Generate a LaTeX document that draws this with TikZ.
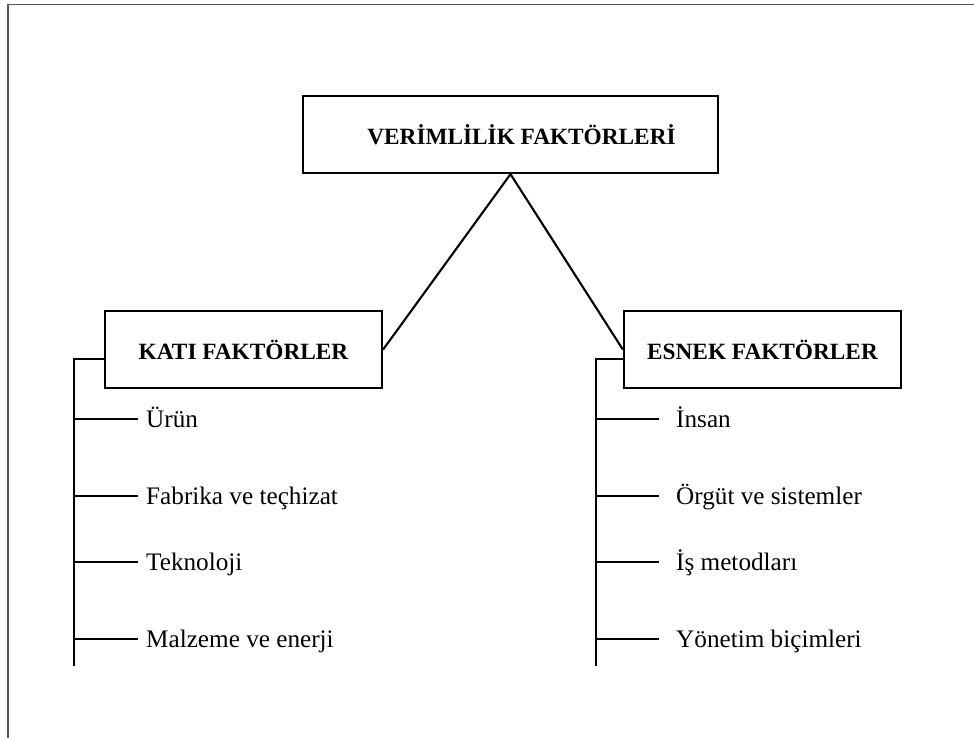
\documentclass[tikz,border=0pt]{standalone}
\usepackage{fontspec}
\setmainfont{Liberation Serif}

\tikzset{
  kutu/.style={draw, line width=2.3pt, minimum width=277pt, minimum height=77pt,
    inner sep=0pt, font=\bfseries\fontsize{23.3}{23.3}\selectfont},
  madde/.style={anchor=west, inner ysep=0pt, text height=18pt, text depth=2pt,
    font=\fontsize{25.2}{25.2}\selectfont},
  cizgi/.style={line width=2.1pt},
}

\begin{document}
\begin{tikzpicture}[x=1pt,y=-1pt]
\useasboundingbox (0,0) rectangle (974,738);
\draw[line width=1.6pt, black!65] (8,738) -- (8,4.5) -- (974,4.5);
\node[kutu, minimum width=415pt] (verim) at (510.5,134.5) {\hspace*{22pt}VERİMLİLİK FAKTÖRLERİ};
\node[kutu] (kati) at (243.5,349.5) {KATI FAKTÖRLER};
\node[kutu] (esnek) at (762.5,349.5) {ESNEK FAKTÖRLER};
\draw[cizgi] (kati.east) -- (verim.south) -- (esnek.west);
% katı faktörler
\coordinate (katialt) at (74,666);
\draw[cizgi] ([yshift=-9.5pt]kati.west) -| (katialt);
\node[madde, inner xsep=8pt] (k1) at (138,419) {Ürün};
\node[madde, inner xsep=8pt] (k2) at (138,496) {Fabrika ve teçhizat};
\node[madde, inner xsep=8pt] (k3) at (138,562) {Teknoloji};
\node[madde, inner xsep=8pt] (k4) at (138,639) {Malzeme ve enerji};
\draw[cizgi] (katialt |- k1.west) -- (k1.west);
\draw[cizgi] (katialt |- k2.west) -- (k2.west);
\draw[cizgi] (katialt |- k3.west) -- (k3.west);
\draw[cizgi] (katialt |- k4.west) -- (k4.west);
% esnek faktörler
\coordinate (esnekalt) at (596,666);
\draw[cizgi] ([yshift=-9.5pt]esnek.west) -| (esnekalt);
\node[madde, inner xsep=17pt] (e1) at (659,419) {İnsan};
\node[madde, inner xsep=17pt] (e2) at (659,496) {Örgüt ve sistemler};
\node[madde, inner xsep=17pt] (e3) at (659,562) {İş metodları};
\node[madde, inner xsep=17pt] (e4) at (659,639) {Yönetim biçimleri};
\draw[cizgi] (esnekalt |- e1.west) -- (e1.west);
\draw[cizgi] (esnekalt |- e2.west) -- (e2.west);
\draw[cizgi] (esnekalt |- e3.west) -- (e3.west);
\draw[cizgi] (esnekalt |- e4.west) -- (e4.west);
\end{tikzpicture}
\end{document}
